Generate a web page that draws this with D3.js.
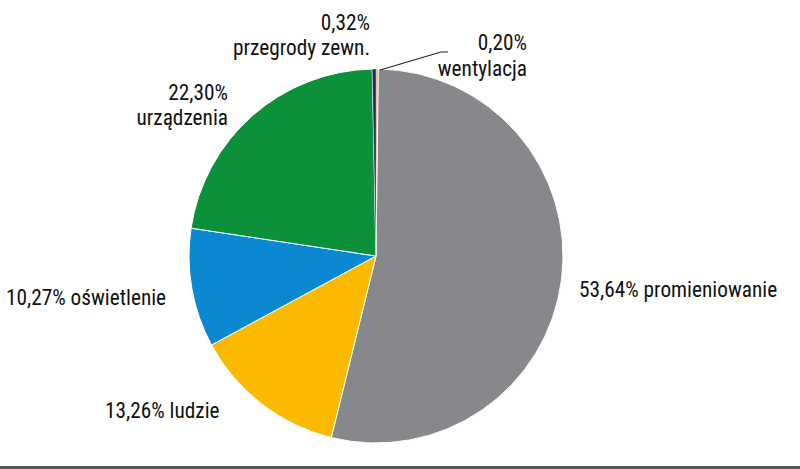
<!DOCTYPE html>
<html>
<head>
<meta charset="utf-8">
<script src="https://cdn.jsdelivr.net/npm/d3@7"></script>
<style>
  body { margin: 0; background: #fff; }
  text { font-family: "Liberation Sans Narrow", "Roboto Condensed", "Liberation Sans", sans-serif; font-size: 21.3px; fill: #111; }
</style>
</head>
<body>
<svg id="chart" width="800" height="469"></svg>
<script>
// slices clockwise from 12 o'clock
const names = ["wentylacja", "promieniowanie", "ludzie", "oświetlenie", "urządzenia", "przegrody zewn."];
const values = [0.20, 53.64, 13.26, 10.27, 22.30, 0.32];
const colors = ["#f3a66e", "#87888b", "#fbba00", "#0a88d2", "#0a9139", "#1c2e63"];
const labels = ["0,20%", "53,64%", "13,26%", "10,27%", "22,30%", "0,32%"];

const svg = d3.select("#chart");
const cx = 376, cy = 256, r = 187;

const pie = d3.pie().sort(null).value(d => d)(values);
const arc = d3.arc().innerRadius(0).outerRadius(r);

const g = svg.append("g").attr("transform", "translate(" + cx + "," + cy + ")");

g.selectAll("path")
  .data(pie)
  .join("path")
    .attr("d", arc)
    .attr("fill", (d, i) => colors[i])
    .attr("stroke", "#fff")
    .attr("stroke-width", (d, i) => values[i] < 1 ? 0.3 : 1);

// leader line for the tiny ventilation slice
const mid = (pie[0].startAngle + pie[0].endAngle) / 2;
const tx = cx + Math.sin(mid) * r + 3, ty = cy - Math.cos(mid) * r + 1;
svg.append("polyline")
  .attr("points", [[tx, ty], [441, 52], [448, 52]].map(p => p.join(",")).join(" "))
  .attr("fill", "none")
  .attr("stroke", "#222")
  .attr("stroke-width", 1.2);

// labels
const lab = [
  { lines: [labels[0], names[0]], x: 527, y: [50, 76], anchor: "end" },
  { lines: [labels[1] + " " + names[1]], x: 579, y: [297], anchor: "start" },
  { lines: [labels[2] + " " + names[2]], x: 105, y: [418], anchor: "start" },
  { lines: [labels[3] + " " + names[3]], x: 6, y: [305], anchor: "start" },
  { lines: [labels[4], names[4]], x: 228, y: [100, 125], anchor: "end" },
  { lines: [labels[5], names[5]], x: 370, y: [30, 55], anchor: "end" }
];

lab.forEach(l => {
  l.lines.forEach((t, j) => {
    svg.append("text")
      .attr("x", l.x)
      .attr("y", l.y[j])
      .attr("text-anchor", l.anchor)
      .text(t);
  });
});

// bottom rule
svg.append("rect")
  .attr("x", 0).attr("y", 466)
  .attr("width", 800).attr("height", 3)
  .attr("fill", "#555");
</script>
</body>
</html>
